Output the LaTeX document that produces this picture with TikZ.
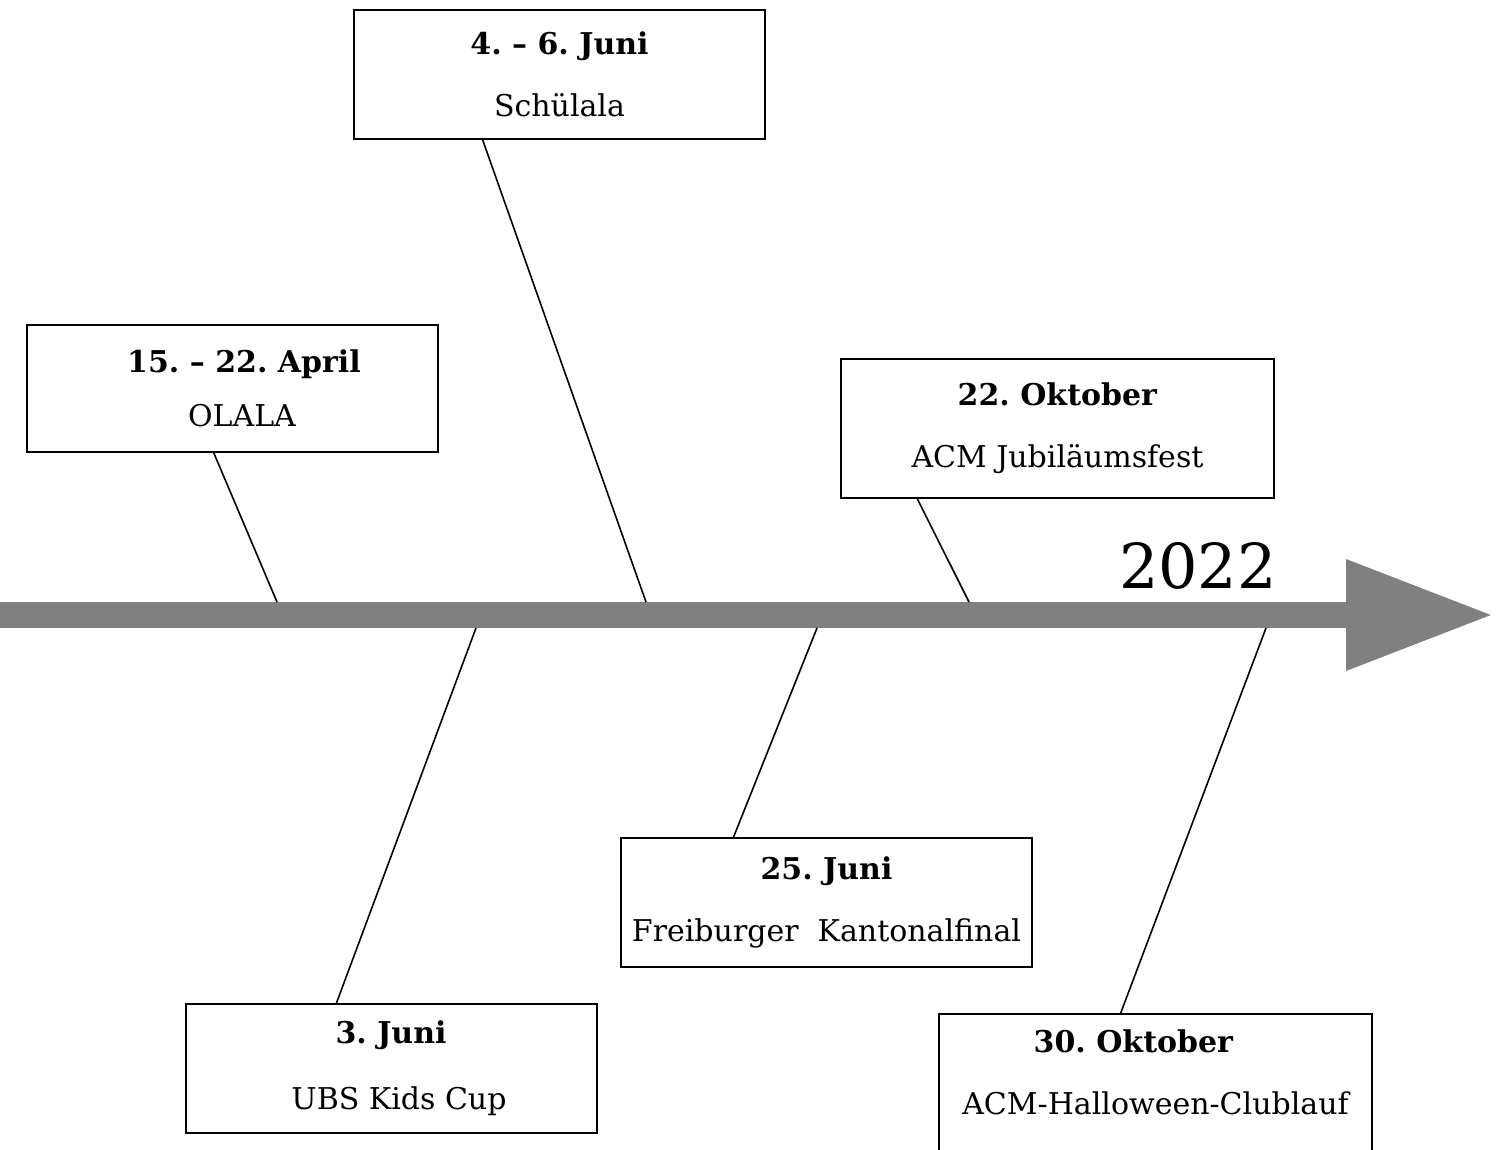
\documentclass[tikz,border=0pt]{standalone}
\usepackage{fontspec}
\setmainfont{DejaVu Serif}
\usetikzlibrary{arrows.meta,positioning,calc}
\definecolor{axisGray}{RGB}{128,128,128}
\frenchspacing
\tikzset{
  eventbox/.style={rectangle, draw=black, line width=1pt, fill=white,
    minimum width=205.5pt, minimum height=64.5pt, align=center,
    font=\fontsize{15}{18}\selectfont},
  eventlink/.style={draw=black, line width=0.8pt},
}

\begin{document}
\begin{tikzpicture}[x=0.5pt,y=-0.5pt]
  \useasboundingbox (0,0) rectangle (1506,1150);

  % timeline
  \coordinate (start) at (0,615);
  \coordinate (end) at (1494,615);
  \draw[axisGray, line width=13pt, -{Triangle[length=74pt,width=52pt]}]
    (start) -- (end);
  \node[font=\fontsize{31}{37}\selectfont] (year) at (1198,566) {2022};

  % points on the axis
  \coordinate (t1) at (277,602);
  \coordinate (t2) at (646,602);
  \coordinate (t3) at (969,602);
  \coordinate (b1) at (476,628);
  \coordinate (b2) at (817,628);
  \coordinate (b3) at (1266,628);

  % events above
  \node[eventbox] (schuelala) at (559.5,74.5)
    {\textbf{4. – 6. Juni}\\[13pt]Schülala};
  \node[eventbox, minimum height=63.5pt] (olala) at (232,388.5)
    {\hspace*{12pt}\textbf{15. – 22. April}\\[9pt]\hspace*{10pt}OLALA};
  \node[eventbox, minimum width=216.5pt, minimum height=69.5pt] (jubilaeum) at (1057.5,428.5)
    {\textbf{22. Oktober}\\[13pt]ACM Jubiläumsfest};

  % events below
  \node[eventbox] (kantonal) at (826.5,902.5)
    {\textbf{25. Juni}\\[13pt]Freiburger~ Kantonalfinal};
  \node[eventbox] (kidscup) at (391,1068.5)
    {\textbf{3. Juni}\\[15pt]\hspace*{8pt}UBS Kids Cup};
  \node[eventbox, minimum width=216.5pt, anchor=north, inner ysep=8pt] (halloween) at (1155.5,1013)
    {\textbf{30. Oktober}\hspace*{22pt}\\[13pt]ACM-Halloween-Clublauf\\[40pt]\mbox{}};

  % links
  \draw[eventlink] ($(schuelala.south west)!0.314!(schuelala.south east)$) -- (t2);
  \draw[eventlink] ($(olala.south west)!0.456!(olala.south east)$) -- (t1);
  \draw[eventlink] ($(jubilaeum.south west)!0.178!(jubilaeum.south east)$) -- (t3);
  \draw[eventlink] ($(kidscup.north west)!0.368!(kidscup.north east)$) -- (b1);
  \draw[eventlink] ($(kantonal.north west)!0.275!(kantonal.north east)$) -- (b2);
  \draw[eventlink] ($(halloween.north west)!0.42!(halloween.north east)$) -- (b3);
\end{tikzpicture}
\end{document}
